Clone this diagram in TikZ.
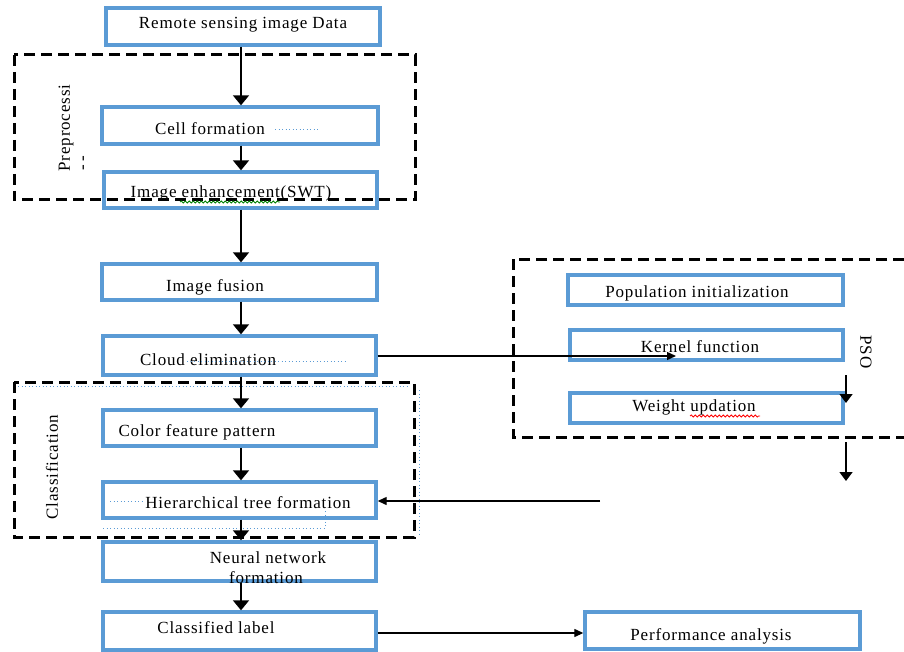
\documentclass[tikz,border=0pt]{standalone}
\usepackage{fontspec}
\setmainfont{Liberation Serif}[LetterSpace=5]
\usetikzlibrary{arrows.meta,decorations.pathmorphing}
\definecolor{boxblue}{HTML}{5B9BD5}
\begin{document}
\begin{tikzpicture}[x=1pt,y=-1pt,
 bx/.style={draw=boxblue,line width=3.4pt,inner sep=0pt},
 grp/.style={draw=black,line width=3pt,dash pattern=on 11pt off 6pt},
 txt/.style={font=\fontsize{17}{19}\selectfont,inner sep=0pt},
 arr/.style={line width=1.8pt,-{Triangle[width=16pt,length=10pt]}},
 harr/.style={line width=1.3pt,-{Triangle[width=8pt,length=9pt]}},
 darr/.style={line width=1.5pt,-{Triangle[width=13pt,length=9pt]}},
 dots/.style={draw=boxblue,line width=1pt,dash pattern=on 1pt off 2.5pt},
 squig/.style={decorate,decoration={snake,amplitude=1pt,segment length=4pt},line width=0.8pt}]
\clip (0,0) rectangle (904,652);
\useasboundingbox (0,0) rectangle (904,652);

% group frames
\draw[grp] (14,55) rectangle (415,200);
\draw[grp] (14,382) rectangle (414,537);
\draw[grp] (513,259) rectangle (930,437);

% boxes
\node[bx,minimum width=274pt,minimum height=37pt] (rs) at (243,26.5) {};
\node[bx,minimum width=276pt,minimum height=37pt] (cell) at (240,125.5) {};
\node[bx,minimum width=273pt,minimum height=36pt] (enh) at (240.5,190) {};
\node[bx,minimum width=275pt,minimum height=36pt] (fus) at (239.5,282) {};
\node[bx,minimum width=273pt,minimum height=39pt] (cloud) at (239.5,355.5) {};
\node[bx,minimum width=273pt,minimum height=36pt] (color) at (239.5,428) {};
\node[bx,minimum width=273pt,minimum height=36pt] (hier) at (239.5,500) {};
\node[bx,minimum width=273pt,minimum height=39pt] (neural) at (239.5,561.5) {};
\node[bx,minimum width=273pt,minimum height=38pt] (cls) at (239.5,631) {};
\node[bx,minimum width=275pt,minimum height=37pt] (perf) at (722.5,630.5) {};
\node[bx,minimum width=275pt,minimum height=30pt] (pop) at (705.5,290) {};
\node[bx,minimum width=273pt,minimum height=30pt] (ker) at (706.5,345) {};
\node[bx,minimum width=273pt,minimum height=30pt] (wt) at (706.5,408) {};

% texts
\node[txt] (trs) at (243,25) {Remote sensing image Data};
\node[txt] (tcell) at (210,129) {Cell formation};
\node[txt] (tenh) at (231,193) {Image enhancement(SWT)};
\node[txt] (tfus) at (215,287) {Image fusion};
\node[txt] (tcloud) at (208,360) {Cloud elimination};
\node[txt] (tcolor) at (197,432) {Color feature pattern};
\node[txt] (thier) at (248,503) {Hierarchical tree formation};
\node[txt] (tneu1) at (268,558) {Neural network};
\node[txt] (tneu2) at (266,578) {formation};
\node[txt] (tcls) at (216,628) {Classified label};
\node[txt] (tperf) at (711,636) {Performance analysis};
\node[txt] (tpop) at (697,293) {Population initialization};
\node[txt] (tker) at (700,347) {Kernel function};
\node[txt] (twt) at (694,407) {Weight updation};

% group labels
\node[txt,rotate=90] (lpre) at (66,128) {Preprocessi};
\node[txt,rotate=90] (lpre2) at (85,163) {-\,-};
\node[txt,rotate=90] (lcls) at (52,467) {Classification};
\node[txt,rotate=-90] (lpso) at (866,352) {PSO};

% artefacts
\draw[dots] (275,130) -- (318,130);
\draw[dots] (187,361) -- (348,361);
\draw[dots] (110,501) -- (145,501);
\draw[dots] (103,528) -- (325,528) -- (325,510);
\draw[dots] (419,390) -- (419,535);
\draw[dots] (18,386) -- (410,386);
\draw[squig,green!50!black] (180,202) -- (280,202);
\draw[squig,red] (690,416) -- (760,416);

% connectors
\coordinate (xr) at (241,0);
\draw[arr] (rs.south -| xr) -- (cell.north -| xr);
\draw[arr] (cell.south -| xr) -- (enh.north -| xr);
\draw[arr] (enh.south -| xr) -- (fus.north -| xr);
\draw[arr] (fus.south -| xr) -- (cloud.north -| xr);
\draw[arr] (cloud.south -| xr) -- (color.north -| xr);
\draw[arr] (color.south -| xr) -- (hier.north -| xr);
\draw[arr] (hier.south -| xr) -- (neural.north -| xr);
\draw[arr] (neural.south -| xr) -- (cls.north -| xr);

\coordinate (kend) at (676,356);
\draw[harr] (cloud.east |- kend) -- (kend);
\coordinate (p1) at (846,375);
\coordinate (p2) at (846,403);
\draw[darr] (p1) -- (p2);
\coordinate (p3) at (846,442);
\coordinate (p4) at (846,481);
\draw[darr] (p3) -- (p4);
\coordinate (hs) at (600,501);
\draw[harr] (hs) -- (hier.east |- hs);
\coordinate (yc) at (0,633);
\draw[harr] (cls.east |- yc) -- (perf.west |- yc);
\end{tikzpicture}
\end{document}
